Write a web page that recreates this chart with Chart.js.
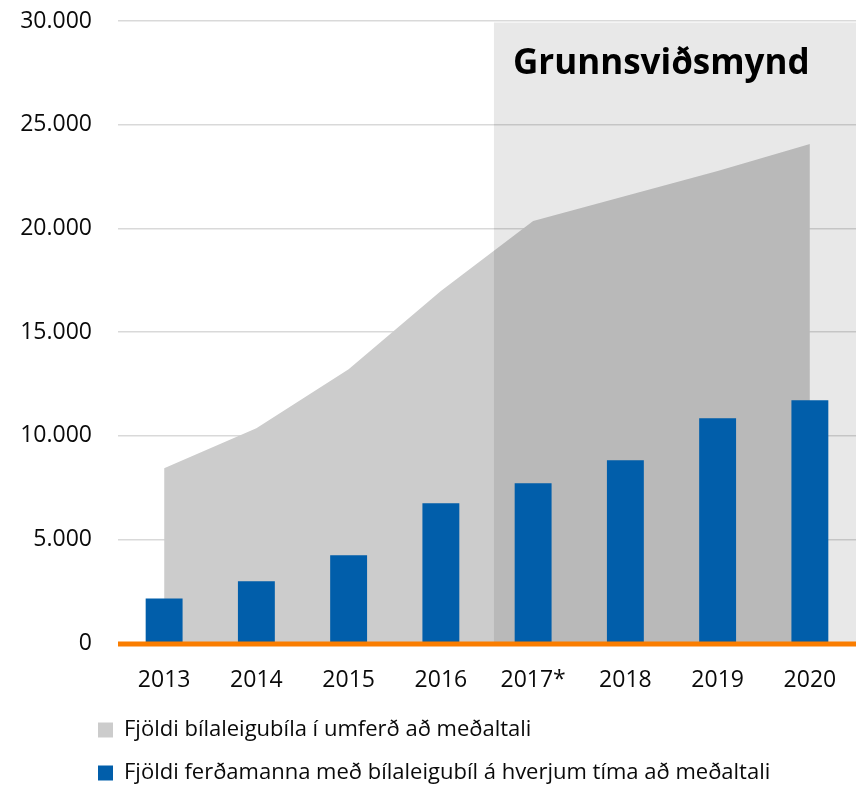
<!DOCTYPE html>
<html>
<head>
<meta charset="utf-8">
<script src="https://cdn.jsdelivr.net/npm/chart.js@4.4.1/dist/chart.umd.min.js"></script>
<style>
  html, body { margin: 0; padding: 0; background: #ffffff; }
  #wrap { width: 864px; height: 786px; }
</style>
</head>
<body>
<div id="wrap"><canvas id="c" width="864" height="786"></canvas></div>
<script>
const categories = ['2013', '2014', '2015', '2016', '2017*', '2018', '2019', '2020'];
const rentalCars = [8440, 10370, 13220, 16980, 20360, 21560, 22770, 24070];
const touristsWithCar = [2170, 2990, 4245, 6750, 7720, 8830, 10850, 11720];
const seriesNames = [
  'Fjöldi bílaleigubíla í umferð að meðaltali',
  'Fjöldi ferðamanna með bílaleigubíl á hverjum tíma að meðaltali'
];
const scenarioLabel = 'Grunnsviðsmynd';
const scenarioStartIndex = 4;
const yTicks = { min: 0, max: 30000, step: 5000 };

const FONT = '"Open Sans", "Noto Sans", sans-serif';

const scenarioPlugin = {
  id: 'scenario',
  afterDatasetDraw(chart, args) {
    if (args.index !== 0) return;
    const { ctx, chartArea, scales } = chart;
    const x = scales.x, y = scales.y;
    const cat = x.getPixelForValue(1) - x.getPixelForValue(0);
    const left = x.getPixelForValue(scenarioStartIndex) - 0.425 * cat;
    const top = y.getPixelForValue(yTicks.max) + 1.5;
    const bottom = y.getPixelForValue(0);
    ctx.save();
    ctx.fillStyle = 'rgba(0,0,0,0.09)';
    ctx.fillRect(left, top, chartArea.right - left, bottom - top);
    ctx.fillStyle = '#000000';
    ctx.font = 'bold 35px ' + FONT;
    ctx.textBaseline = 'alphabetic';
    ctx.textAlign = 'left';
    ctx.fillText(scenarioLabel, left + 19, top + 51);
    ctx.restore();
  },
  afterDatasetsDraw(chart) {
    const { ctx, chartArea, scales } = chart;
    const y0 = scales.y.getPixelForValue(0);
    ctx.save();
    ctx.strokeStyle = '#FA7D00';
    ctx.lineWidth = 5;
    ctx.beginPath();
    ctx.moveTo(chartArea.left, y0 + 0.5);
    ctx.lineTo(chartArea.right, y0 + 0.5);
    ctx.stroke();
    ctx.restore();
  }
};

const legendPlace = {
  id: 'legendPlace',
  afterLayout(chart) {
    const lg = chart.legend;
    if (lg) {
      const h = lg.bottom - lg.top;
      lg.left = 77;
      lg.top = 698;
      lg.bottom = 698 + h;
    }
  }
};

new Chart(document.getElementById('c'), {
  data: {
    labels: categories,
    datasets: [
      {
        type: 'line',
        label: seriesNames[0],
        data: rentalCars,
        fill: 'origin',
        backgroundColor: '#cccccc',
        borderColor: '#cccccc',
        borderWidth: 0,
        pointRadius: 0,
        tension: 0,
        order: 2
      },
      {
        type: 'bar',
        label: seriesNames[1],
        data: touristsWithCar,
        backgroundColor: '#015EAA',
        borderWidth: 0,
        categoryPercentage: 1.0,
        barPercentage: 0.4,
        order: 1
      }
    ]
  },
  options: {
    responsive: false,
    animation: false,
    devicePixelRatio: 1,
    layout: { padding: { left: 20, right: 8, top: 21, bottom: -27 } },
    scales: {
      x: {
        offset: true,
        grid: { display: false, drawTicks: false },
        border: { display: false },
        ticks: { color: '#0a0a0a', font: { family: FONT, size: 23 }, padding: 23, maxRotation: 0 }
      },
      y: {
        min: yTicks.min,
        max: yTicks.max,
        grid: { color: '#d9d9d9', lineWidth: 1.5, drawTicks: false },
        border: { display: false },
        afterFit(scale) {
          scale.width = 98;
          scale.paddingTop = 14;
          scale.paddingBottom = 14;
        },
        ticks: {
          stepSize: yTicks.step,
          color: '#0a0a0a',
          font: { family: FONT, size: 23 },
          padding: 26,
          callback: v => String(v).replace(/\B(?=(\d{3})+(?!\d))/g, '.')
        }
      }
    },
    plugins: {
      legend: {
        position: 'bottom',
        align: 'start',
        labels: {
          color: '#0a0a0a',
          font: { family: FONT, size: 22 },
          boxWidth: 15,
          boxHeight: 15,
          padding: 21,
          sort: (a, b) => a.datasetIndex - b.datasetIndex
        }
      },
      tooltip: { enabled: false }
    }
  },
  plugins: [scenarioPlugin, legendPlace]
});
</script>
</body>
</html>
